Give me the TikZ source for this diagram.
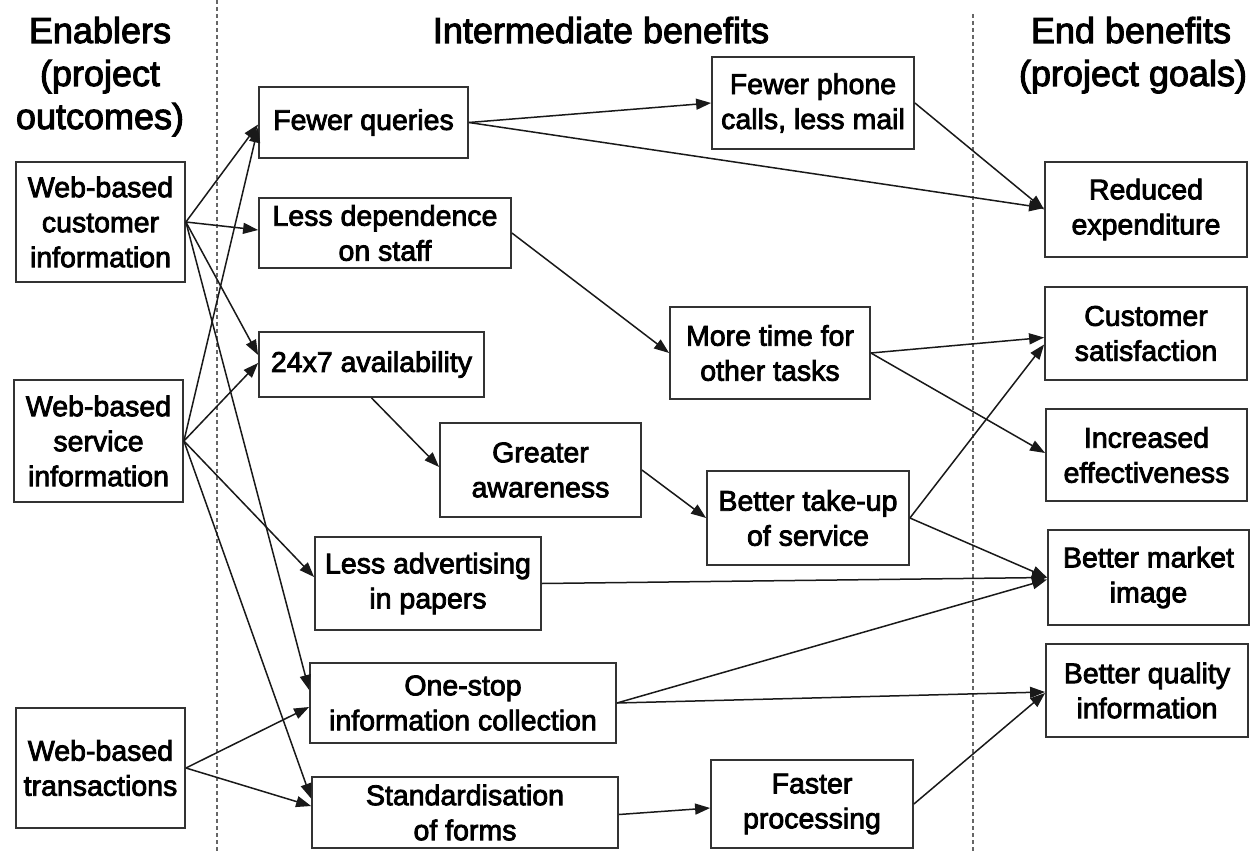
\documentclass[tikz,border=0pt]{standalone}
\usepackage{fontspec}
\setmainfont{Liberation Sans}[FakeBold=2.8]
\usetikzlibrary{arrows.meta}
\newcommand{\bodyfont}{\fontsize{28.5}{35}\selectfont}
\newcommand{\headfont}{\fontsize{36}{43}\selectfont}
\begin{document}
\begin{tikzpicture}[x=1pt,y=-1pt,
  box/.style={draw=black!80, line width=1.8pt, inner sep=0pt, align=center, font=\bodyfont},
  link/.style={line width=1.5pt, draw=black!90, -{Triangle[length=15pt,width=11pt]}},
  head/.style={anchor=base, inner sep=0pt, font=\headfont},
  divider/.style={draw=black!60, line width=1.6pt, dash pattern=on 4pt off 3pt}]

\fill[white] (0,0) rectangle (1255,853);
\useasboundingbox (0,0) rectangle (1255,853);

% column dividers
\draw[divider] (217,0) -- (217,853);
\draw[divider] (973,14) -- (973,853);

% column headings
\node[head] (hEa) at (100,43) {Enablers};
\node[head] (hEb) at (100,86) {(project};
\node[head] (hEc) at (100,129) {outcomes)};
\node[head] (hI) at (601,43) {Intermediate benefits};
\node[head] (hGa) at (1131,43) {End benefits};
\node[head] (hGb) at (1133,86) {(project goals)};

% enablers
\node[box, minimum width=169pt, minimum height=120pt] (wc) at (100.5,222) {Web-based\\customer\\information};
\node[box, minimum width=169pt, minimum height=122pt] (ws) at (98.5,441) {Web-based\\service\\information};
\node[box, minimum width=169pt, minimum height=120pt] (wt) at (100.5,768) {Web-based\\transactions};

% intermediate benefits
\node[box, minimum width=209pt, minimum height=71pt] (fq) at (363.5,122.5) {Fewer queries};
\node[box, minimum width=252pt, minimum height=70pt] (ld) at (385,233) {Less dependence\\on staff};
\node[box, minimum width=225pt, minimum height=65pt] (av) at (371.5,364.5) {24x7 availability};
\node[box, minimum width=201pt, minimum height=94pt] (ga) at (540.5,470) {Greater\\awareness};
\node[box, minimum width=226pt, minimum height=93pt] (la) at (428,583.5) {Less advertising\\in papers};
\node[box, minimum width=306pt, minimum height=80pt] (os) at (463,703) {One-stop\\information collection};
\node[box, minimum width=306pt, minimum height=71pt] (sf) at (465,812.5) {Standardisation\\of forms};
\node[box, minimum width=202pt, minimum height=92pt] (fp) at (813,103) {Fewer phone\\calls, less mail};
\node[box, minimum width=200pt, minimum height=92pt] (mt) at (770,353) {More time for\\other tasks};
\node[box, minimum width=202pt, minimum height=94pt] (bt) at (808,518) {Better take-up\\of service};
\node[box, minimum width=202pt, minimum height=88pt] (fpr) at (812,804) {Faster\\processing};

% end benefits
\node[box, minimum width=202pt, minimum height=95pt] (re) at (1146,209.5) {Reduced\\expenditure};
\node[box, minimum width=202pt, minimum height=93pt] (cs) at (1146,333.5) {Customer\\satisfaction};
\node[box, minimum width=201pt, minimum height=92pt] (ie) at (1146.5,455) {Increased\\effectiveness};
\node[box, minimum width=201pt, minimum height=95pt] (bm) at (1148.5,577.5) {Better market\\image};
\node[box, minimum width=202pt, minimum height=93pt] (bq) at (1147,690.5) {Better quality\\information};

% enablers to intermediate benefits
\draw[link] (wc.east) -- ([yshift=-2pt]fq.west);
\draw[link] (ws.east) -- ([yshift=-5pt]fq.west);
\draw[link] (wc.east) -- ([yshift=3pt]ld.west);
\draw[link] (wc.east) -- ([yshift=9.5pt]av.west);
\draw[link] (ws.east) -- ([yshift=1.5pt]av.west);
\draw[link] (wc.east) -- ([yshift=13pt]os.west);
\draw[link] (ws.east) -- ([yshift=6.5pt]la.west);
\draw[link] (ws.east) -- ([yshift=14pt]sf.west);
\draw[link] (wt.east) -- ([yshift=-4pt]os.west);
\draw[link] (wt.east) -- ([yshift=6.5pt]sf.west);

% between intermediate benefits
\draw[link] (fq.east) -- (fp.west);
\draw[link] (ld.east) -- (mt.west);
\draw[link] (av.south) -- ([yshift=3pt]ga.west);
\draw[link] (ga.east) -- (bt.west);
\draw[link] ([yshift=-2pt]sf.east) -- ([yshift=-4pt]fpr.west);

% intermediate to end benefits
\draw[link] (fq.east) -- ([yshift=1.5pt]re.west);
\draw[link] (fp.east) -- (re.west);
\draw[link] (mt.east) -- ([yshift=-4pt]cs.west);
\draw[link] (mt.east) -- ([yshift=2pt]ie.west);
\draw[link] (bt.east) -- ([yshift=-11pt]cs.west);
\draw[link] (bt.east) -- (bm.west);
\draw[link] (la.east) -- (bm.west);
\draw[link] (os.east) -- ([yshift=-2pt]bm.west);
\draw[link] (os.east) -- ([yshift=-1.5pt]bq.west);
\draw[link] (fpr.east) -- ([yshift=-2.5pt]bq.west);
\end{tikzpicture}
\end{document}
